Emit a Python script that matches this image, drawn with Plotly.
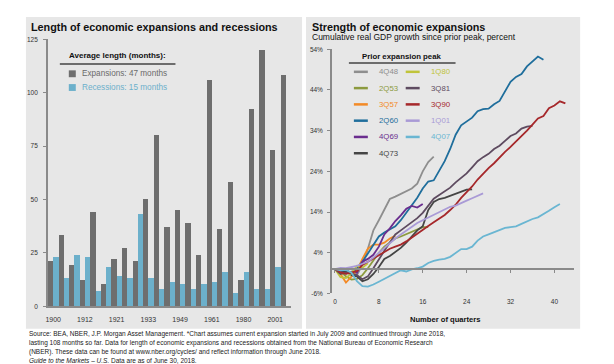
import plotly.graph_objects as go

W, H = 614, 364
FONT = "Arial, Liberation Sans, sans-serif"

# ---------------- Left chart data ----------------
cycle_years = ['1900', '1904', '1908', '1912', '1914', '1919', '1921', '1924', '1927', '1933', '1938', '1945',
               '1949', '1954', '1958', '1961', '1970', '1975', '1980', '1982', '1991', '2001', '2009']
expansion_months = [21, 33, 19, 12, 44, 10, 22, 27, 21, 50, 80, 37, 45, 39, 24, 106, 36, 58, 12, 92, 120, 73, 108]
recession_months = [23, 13, 24, 23, 7, 18, 14, 13, 43, 13, 8, 11, 10, 8, 10, 11, 16, 6, 16, 8, 8, 18]
year_ticks = ['1900', '1912', '1921', '1933', '1949', '1961', '1980', '2001']
month_ticks = [0, 25, 50, 75, 100, 125]

# ---------------- Right chart data (cumulative % since prior peak, by quarter) ----------------
gdp_4q48 = [0, -1.0, -1.2, -0.6, -1.5, 1.0, 5.0, 9.5, 12.0, 14.8, 17.2, 17.8, 18.5, 19.3, 19.8, 21.0, 24.0, 26.3, 27.6]
gdp_2q53 = [0, -0.6, -1.8, -2.6, -2.4, -1.5, 0.2, 2.2, 4.0, 5.5, 6.5, 7.5, 8.0, 8.6, 9.0, 9.6, 10.3, 10.3]
gdp_3q57 = [0, -1.2, -3.3, -1.8, -0.4, 2.5, 5.0, 6.0, 6.0, 6.5, 7.5, 8.2]
gdp_2q60 = [0, -0.5, -0.3, -1.0, 0.2, 1.8, 3.8, 6.0, 8.0, 9.0, 9.7, 10.5, 12.0, 13.8, 15.5, 17.5, 19.8, 21.5,
            21.8, 24.0, 26.5, 29.5, 33.0, 35.3, 36.2, 37.2, 38.8, 39.3, 39.4, 40.5, 41.3, 43.6, 46.0, 47.2,
            47.9, 49.8, 51.0, 52.2, 51.4]
gdp_4q69 = [0, -0.5, -0.3, 0.2, -0.9, 1.8, 2.5, 3.5, 5.5, 8.5, 10.0, 11.8, 13.2, 14.8, 15.5, 15.1, 16.0]
gdp_4q73 = [0, -0.9, -0.6, -1.5, -1.8, -3.0, -2.5, -1.2, 0.5, 2.5, 3.2, 4.2, 5.2, 6.5, 8.0, 9.5, 10.5, 14.5,
            16.5, 17.2, 17.5, 18.0, 18.5, 19.0, 19.5, 19.6]
gdp_1q80 = [0, -2.0, -2.2, -1.1, 0.8, 0.3, 1.4]
gdp_3q81 = [0, -1.2, -0.8, -1.2, -1.5, -2.5, -1.8, 0.2, 2.5, 4.5, 6.5, 8.5, 9.5, 10.5, 11.5, 12.5, 13.8, 15.5,
            17.3, 18.2, 19.0, 20.0, 21.3, 22.5, 23.5, 25.0, 26.5, 27.5, 28.3, 29.5, 30.3, 31.5, 32.7, 33.3,
            34.5, 35.0, 35.2]
gdp_3q90 = [0, -0.8, -1.2, -0.8, -0.5, 1.0, 1.8, 2.7, 3.5, 4.3, 5.0, 5.5, 6.0, 6.8, 7.8, 8.8, 9.6, 10.6,
            11.5, 12.3, 13.3, 14.5, 15.8, 17.5, 18.8, 20.3, 22.0, 23.5, 24.8, 26.0, 27.5, 28.8, 30.0, 31.3,
            32.5, 34.0, 35.5, 37.0, 37.6, 39.5, 40.2, 41.2, 40.7]
gdp_1q01 = [0, 0.3, 0.2, 0.5, 0.8, 1.3, 1.8, 2.8, 4.0, 5.3, 6.5, 7.5, 8.5, 9.5, 10.5, 11.3, 12.0, 12.7, 13.4,
            14.1, 14.8, 15.3, 15.6, 16.3, 16.8, 17.4, 18.0, 18.6]
gdp_4q07 = [0, -0.3, -0.2, -0.9, -3.0, -4.2, -4.3, -3.8, -3.1, -2.4, -1.6, -1.0, -0.3, -0.6, -0.1, 0.2, 0.6,
            1.5, 2.0, 2.3, 2.5, 3.0, 4.0, 4.9, 4.9, 5.5, 7.0, 8.0, 8.5, 9.1, 9.6, 10.1, 10.3, 10.5, 11.1, 11.8,
            12.3, 12.7, 13.4, 14.3, 15.2, 16.0]

peak_names = ['4Q48', '2Q53', '3Q57', '2Q60', '4Q69', '4Q73', '1Q80', '3Q81', '3Q90', '1Q01', '4Q07']
peak_series = [gdp_4q48, gdp_2q53, gdp_3q57, gdp_2q60, gdp_4q69, gdp_4q73, gdp_1q80, gdp_3q81, gdp_3q90,
               gdp_1q01, gdp_4q07]
peak_colors = ['#8e8e8e', '#8c9a3e', '#f38a26', '#1f6e9c', '#6a2d8e', '#454545', '#c0c43a', '#5e4b60',
               '#a6282b', '#a99ad6', '#6ab6d2']
legend_order = ['4Q48', '1Q80', '2Q53', '3Q81', '3Q57', '3Q90', '2Q60', '1Q01', '4Q69', '4Q07', '4Q73']
quarter_ticks = [0, 8, 16, 24, 32, 40]
growth_ticks = [-6, 4, 14, 24, 34, 44, 54]

EXP_COLOR = '#6e6e6e'
REC_COLOR = '#6cb0cb'
PANEL = '#e7e7e7'
AXIS = '#8a8a8a'


def fx(p):
    return p / W


def fy(p):
    return 1 - p / H


fig = go.Figure()

fig.add_trace(go.Bar(x=cycle_years, y=expansion_months, marker=dict(color=EXP_COLOR, line=dict(width=0)),
                     xaxis='x', yaxis='y', showlegend=False, hoverinfo='skip'))
fig.add_trace(go.Bar(x=cycle_years[:len(recession_months)], y=recession_months,
                     marker=dict(color=REC_COLOR, line=dict(width=0)),
                     xaxis='x', yaxis='y', showlegend=False, hoverinfo='skip'))

for name, vals, col in zip(peak_names, peak_series, peak_colors):
    fig.add_trace(go.Scatter(x=list(range(len(vals))), y=vals, mode='lines', name=name,
                             line=dict(color=col, width=1.8), xaxis='x2', yaxis='y2',
                             showlegend=False, hoverinfo='skip'))

y2_bot, y2_top = fy(287), fy(38)
zero_pos = y2_bot + (0 - growth_ticks[0]) / (growth_ticks[-1] - growth_ticks[0]) * (y2_top - y2_bot)
x2_range = [-0.55, 43.6]

tickfont = dict(family=FONT, size=6.5, color='#333')

fig.update_layout(
    width=W, height=H, margin=dict(l=0, r=0, t=0, b=0),
    paper_bgcolor='white', plot_bgcolor='rgba(0,0,0,0)',
    barmode='group', bargap=0, bargroupgap=0,
    font=dict(family=FONT, color='#222'),
    xaxis=dict(domain=[fx(38), fx(282)], anchor='y', type='category', range=[-0.5, 22.5],
               tickmode='array', tickvals=year_ticks, ticktext=year_ticks, ticks='',
               tickfont=dict(family=FONT, size=7, color='#333'), ticklabelstandoff=6,
               showline=True, linecolor=AXIS, linewidth=1.5, showgrid=False, zeroline=False, fixedrange=True),
    yaxis=dict(domain=[fy(300), fy(28)], anchor='x', range=[0, 125], tickvals=month_ticks,
               ticks='outside', ticklen=3, tickcolor=AXIS, tickfont=tickfont, ticklabelstandoff=4,
               showline=True, linecolor=AXIS, linewidth=1.5, showgrid=False, zeroline=False),
    xaxis2=dict(domain=[fx(323), fx(566)], anchor='y2', range=x2_range, tickvals=quarter_ticks,
                ticks='', tickfont=tickfont, ticklabelstandoff=3,
                showline=False, showgrid=False, zeroline=False),
    xaxis3=dict(overlaying='x2', anchor='free', position=zero_pos, range=x2_range, tickvals=quarter_ticks,
                ticks='outside', ticklen=3, tickcolor=AXIS, showticklabels=False,
                showline=True, linecolor=AXIS, linewidth=1.5, showgrid=False, zeroline=False),
    yaxis2=dict(domain=[y2_bot, y2_top], anchor='x2', range=[growth_ticks[0], growth_ticks[-1]],
                tickvals=growth_ticks, ticktext=[f'{v}%' for v in growth_ticks],
                ticks='outside', ticklen=3, tickcolor=AXIS, tickfont=tickfont, ticklabelstandoff=3,
                showline=True, linecolor=AXIS, linewidth=1.5, showgrid=False, zeroline=False),
)

# invisible anchor trace so the zero-line tick axis is drawn
fig.add_trace(go.Scatter(x=[0], y=[0], xaxis='x3', yaxis='y2', mode='markers',
                         marker=dict(opacity=0), showlegend=False, hoverinfo='skip'))

shapes = [
    dict(type='rect', xref='paper', yref='paper', x0=fx(16), x1=fx(293), y0=fy(323), y1=fy(5),
         fillcolor=PANEL, line=dict(width=0), layer='below'),
    dict(type='rect', xref='paper', yref='paper', x0=fx(297), x1=fx(572), y0=fy(323), y1=fy(5),
         fillcolor=PANEL, line=dict(width=0), layer='below'),
    # legend underlines
    dict(type='line', xref='paper', yref='paper', x0=fx(50), x1=fx(166), y0=fy(53), y1=fy(53),
         line=dict(color='#444', width=1.5)),
    dict(type='line', xref='paper', yref='paper', x0=fx(340), x1=fx(447), y0=fy(52), y1=fy(52),
         line=dict(color='#444', width=1.5)),
    # left legend squares
    dict(type='rect', xref='paper', yref='paper', x0=fx(59), x1=fx(66), y0=fy(66.5), y1=fy(59.5),
         fillcolor=EXP_COLOR, line=dict(width=0)),
    dict(type='rect', xref='paper', yref='paper', x0=fx(59), x1=fx(66), y0=fy(80.5), y1=fy(73.5),
         fillcolor=REC_COLOR, line=dict(width=0)),
]

annotations = [
    dict(text='<b>Length of economic expansions and recessions</b>', x=fx(19), y=fy(15), xref='paper',
         yref='paper', xanchor='left', yanchor='middle', showarrow=False,
         font=dict(family=FONT, size=10.8, color='#111')),
    dict(text='<b>Strength of economic expansions</b>', x=fx(301), y=fy(15), xref='paper',
         yref='paper', xanchor='left', yanchor='middle', showarrow=False,
         font=dict(family=FONT, size=10.8, color='#111')),
    dict(text='Cumulative real GDP growth since prior peak, percent', x=fx(301), y=fy(25.5), xref='paper',
         yref='paper', xanchor='left', yanchor='middle', showarrow=False,
         font=dict(family=FONT, size=8.5, color='#111')),
    dict(text='<b>Average length (months):</b>', x=fx(108), y=fy(44), xref='paper', yref='paper',
         xanchor='center', yanchor='middle', showarrow=False, font=dict(family=FONT, size=8, color='#111')),
    dict(text='Expansions: 47 months', x=fx(70), y=fy(63), xref='paper', yref='paper',
         xanchor='left', yanchor='middle', showarrow=False, font=dict(family=FONT, size=8.2, color='#6a6a6a')),
    dict(text='Recessions: 15 months', x=fx(70), y=fy(77), xref='paper', yref='paper',
         xanchor='left', yanchor='middle', showarrow=False, font=dict(family=FONT, size=8.2, color='#6cb0cb')),
    dict(text='<b>108<br>months*</b>', x=cycle_years[-1], y=expansion_months[-1], xref='x', yref='y',
         xanchor='center', yanchor='bottom', xshift=-4, yshift=3, showarrow=False,
         font=dict(family=FONT, size=7.5, color='#111')),
    dict(text='<b>Prior expansion peak</b>', x=fx(393), y=fy(45), xref='paper', yref='paper',
         xanchor='center', yanchor='middle', showarrow=False, font=dict(family=FONT, size=7.8, color='#111')),
    dict(text='<b>Number of quarters</b>', x=fx(436), y=fy(314), xref='paper', yref='paper',
         xanchor='center', yanchor='middle', showarrow=False, font=dict(family=FONT, size=7.6, color='#111')),
]

color_of = dict(zip(peak_names, peak_colors))
for i, name in enumerate(legend_order):
    row, col = divmod(i, 2)
    yy = 61 + row * 16.6
    x0 = 345 + col * 52
    shapes.append(dict(type='line', xref='paper', yref='paper', x0=fx(x0), x1=fx(x0 + 14), y0=fy(yy), y1=fy(yy),
                       line=dict(color=color_of[name], width=2.5)))
    annotations.append(dict(text=name, x=fx(x0 + 23), y=fy(yy), xref='paper', yref='paper', xanchor='left',
                            yanchor='middle', showarrow=False,
                            font=dict(family=FONT, size=7.8, color=color_of[name])))

footer_lines = [
    'Source: BEA, NBER, J.P. Morgan Asset Management. *Chart assumes current expansion started in July 2009 and continued through June 2018,',
    'lasting 108 months so far. Data for length of economic expansions and recessions obtained from the National Bureau of Economic Research',
    '(NBER). These data can be found at www.nber.org/cycles/ and reflect information through June 2018.',
    '<i>Guide to the Markets – U.S.</i> Data are as of June 30, 2018.',
]
for i, line in enumerate(footer_lines):
    annotations.append(dict(text=line, x=fx(17), y=fy(328.5 + i * 9.0), xref='paper', yref='paper',
                            xanchor='left', yanchor='middle', showarrow=False,
                            font=dict(family=FONT, size=6.5, color='#222')))

fig.update_layout(shapes=shapes, annotations=annotations)

fig.write_html("out.html")
